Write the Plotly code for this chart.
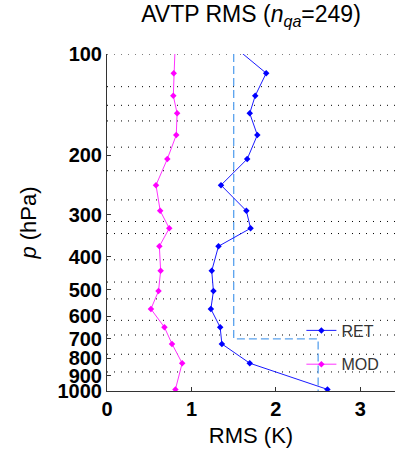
import plotly.graph_objects as go

# Layer mid-pressures (hPa) for the profile points; first point lies just above the plot top
pressure = [90, 114, 133, 150, 174, 205, 245, 292, 329, 372, 440, 505, 571, 647, 725, 827, 989]
ret_rms = [1.39, 1.885, 1.755, 1.69, 1.78, 1.66, 1.35, 1.65, 1.70, 1.32, 1.24, 1.26, 1.23, 1.34, 1.36, 1.69, 2.61]
mod_rms = [0.81, 0.79, 0.785, 0.83, 0.82, 0.714, 0.58, 0.63, 0.737, 0.62, 0.635, 0.61, 0.52, 0.68, 0.77, 0.89, 0.81]

# Threshold (requirement) step line
thr_x = [1.5, 1.5, 2.5, 2.5]
thr_p = [100, 700, 700, 1000]

# Layer boundary levels (dotted grid)
grid_levels = [100, 125, 142, 158, 189, 222, 271, 314, 341, 408, 475, 533, 617, 682, 778, 878]

ytick_vals = [100, 200, 300, 400, 500, 600, 700, 800, 900, 1000]
ytick_text = [str(v) for v in ytick_vals]
xtick_vals = [0, 1, 2, 3]
x_range = [0, 3.41]

FONT = "Liberation Sans, Arial, sans-serif"

# dotted grid lines at layer boundaries, spanning the x range
gx, gy = [], []
for lev in grid_levels:
    gx += [x_range[0], x_range[1], None]
    gy += [lev, lev, None]

fig = go.Figure()
fig.add_trace(go.Scatter(
    x=gx, y=gy, mode="lines", showlegend=False, hoverinfo="skip",
    line=dict(color="black", width=1, dash="1px,6px")))
fig.add_trace(go.Scatter(
    x=thr_x, y=thr_p, mode="lines", showlegend=False,
    line=dict(color="#5aa2ee", width=1.3, dash="8px,4px"), hoverinfo="skip"))
fig.add_trace(go.Scatter(
    x=ret_rms, y=pressure, mode="lines+markers", name="RET", legendgroup="a",
    line=dict(color="#1a1aff", width=1), marker=dict(symbol="diamond", size=5, color="#0000ff")))
fig.add_trace(go.Scatter(
    x=mod_rms, y=pressure, mode="lines+markers", name="MOD", legendgroup="b",
    line=dict(color="#ff33ff", width=1), marker=dict(symbol="diamond", size=5, color="#ff00ff")))

fig.update_layout(
    width=395, height=460,
    margin=dict(l=107, r=0, t=54, b=69),
    paper_bgcolor="white", plot_bgcolor="white",
    font=dict(family=FONT, color="black"),
    title=dict(text="AVTP RMS (<i>n</i><sub><i>qa</i></sub>=249)",
               x=0.5, xref="paper", xanchor="center",
               y=1 - 6 / 460, yref="container", yanchor="top",
               font=dict(size=23, family=FONT, color="black")),
    showlegend=True,
    legend=dict(x=0.675, y=0.23, xanchor="left", yanchor="top",
                bgcolor="rgba(0,0,0,0)", borderwidth=0,
                font=dict(size=16, family=FONT, color="#333333"),
                tracegroupgap=10, traceorder="grouped"),
    xaxis=dict(range=x_range, tickvals=xtick_vals, ticks="inside", ticklen=4,
               tickcolor="#333333", showline=True, linecolor="#333333", linewidth=1,
               showgrid=False, zeroline=False, mirror=False,
               tickfont=dict(size=20, family=FONT, weight="bold"),
               title=dict(text="RMS (K)", font=dict(size=22, family=FONT), standoff=8)),
    yaxis=dict(type="log", range=[3, 2], tickvals=ytick_vals, ticktext=ytick_text,
               ticks="inside", ticklen=4, tickcolor="#333333",
               showline=True, linecolor="#333333", linewidth=1,
               showgrid=False, zeroline=False, mirror=False,
               tickfont=dict(size=20, family=FONT, weight="bold"),
               title=dict(text="<i>p</i> (hPa)", font=dict(size=22, family=FONT), standoff=14)),
)

fig.write_html("out.html")
